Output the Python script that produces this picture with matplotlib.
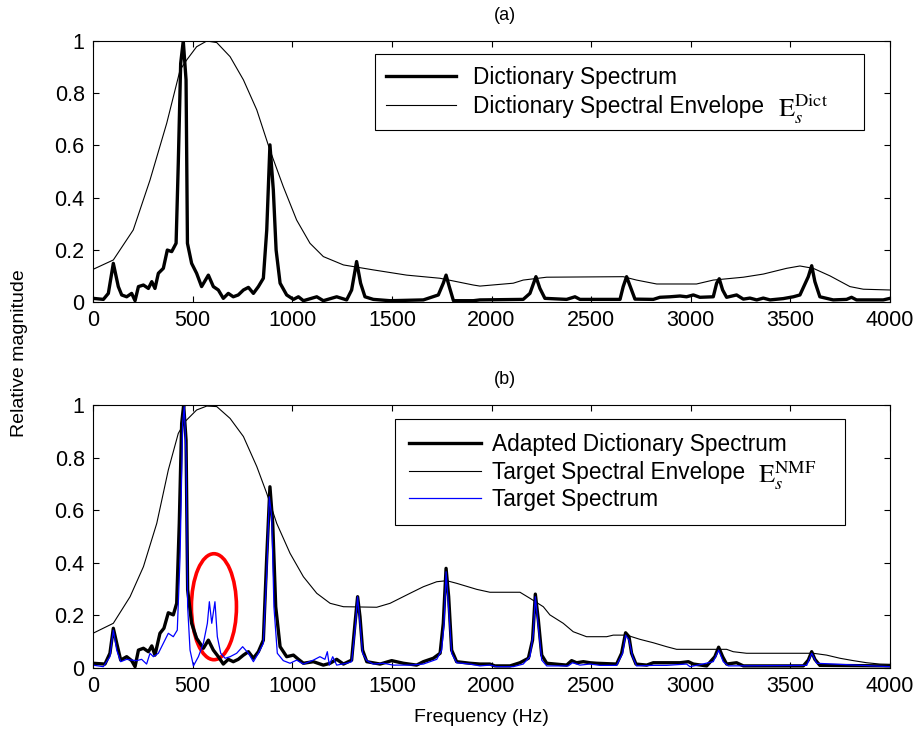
import matplotlib
matplotlib.use("Agg")
import matplotlib.pyplot as plt
from matplotlib.patches import Ellipse
from matplotlib.ticker import FixedLocator, FuncFormatter

plt.rcParams['font.family'] = ['Liberation Sans', 'DejaVu Sans']
plt.rcParams['mathtext.fontset'] = 'stix'

# ---------------- (a) Dictionary spectrum ----------------
dict_freq = [0, 52, 77, 102, 127, 144, 169, 194, 211, 228, 253, 278, 295, 311, 328, 353, 373, 395,
             417, 428, 440, 453, 467, 474, 495, 520, 545, 579, 604, 629, 654, 679, 704, 729, 755,
             780, 805, 830, 855, 872, 888, 905, 919, 939, 972, 1006, 1031, 1056, 1123, 1156, 1223,
             1273, 1298, 1323, 1343, 1365, 1407, 1491, 1658, 1733, 1758, 1772, 1788, 1809, 1909,
             1942, 2159, 2193, 2223, 2243, 2268, 2377, 2419, 2444, 2645, 2661, 2678, 2698, 2720,
             2812, 2845, 2896, 2946, 2979, 3013, 3046, 3113, 3130, 3143, 3160, 3180, 3230, 3264,
             3297, 3331, 3364, 3398, 3464, 3515, 3548, 3590, 3607, 3623, 3648, 3715, 3782, 3807,
             3832, 3966, 4000]
dict_mag = [0.014, 0.010, 0.033, 0.148, 0.059, 0.027, 0.020, 0.033, 0.005, 0.059, 0.065, 0.052,
            0.078, 0.052, 0.110, 0.129, 0.199, 0.193, 0.225, 0.531, 0.914, 1.000, 0.851, 0.225,
            0.148, 0.110, 0.059, 0.103, 0.059, 0.046, 0.014, 0.033, 0.020, 0.027, 0.046, 0.056,
            0.033, 0.059, 0.091, 0.276, 0.602, 0.429, 0.199, 0.072, 0.027, 0.010, 0.020, 0.005,
            0.020, 0.005, 0.020, 0.008, 0.046, 0.155, 0.072, 0.020, 0.010, 0.005, 0.008, 0.027,
            0.072, 0.103, 0.059, 0.005, 0.005,
            0.008, 0.010, 0.033, 0.097, 0.052, 0.014, 0.010, 0.020, 0.010, 0.010, 0.059, 0.097,
            0.056, 0.011, 0.010, 0.018, 0.020, 0.023, 0.020, 0.027, 0.018, 0.020, 0.072, 0.089,
            0.046, 0.018, 0.027, 0.011, 0.015, 0.008, 0.015, 0.008, 0.013, 0.020, 0.027, 0.097,
            0.139, 0.078, 0.020, 0.008, 0.010, 0.018, 0.008, 0.008, 0.014]

dict_env_freq = [0, 102, 202, 286, 370, 437, 470, 520, 571, 621, 688, 755, 822, 888, 955, 1022,
                 1089, 1156, 1257, 1407, 1574, 1741, 1909, 1942, 2109, 2159, 2277, 2661, 2728,
                 2829, 3029, 3113, 3264, 3364, 3481, 3548, 3615, 3699, 3799, 3866, 4000]
dict_env_mag = [0.125, 0.161, 0.276, 0.467, 0.685, 0.889, 0.927, 0.978, 1.000, 0.994, 0.940,
                0.851, 0.736, 0.582, 0.442, 0.314, 0.225, 0.174, 0.142, 0.123, 0.103, 0.091,
                0.065, 0.061, 0.072, 0.084, 0.095, 0.097, 0.084, 0.069, 0.069, 0.084, 0.095,
                0.107, 0.129, 0.138, 0.129, 0.100, 0.059, 0.049, 0.046]

# ---------------- (b) Adapted dictionary / target ----------------
adapt_freq = [0, 60, 85, 102, 119, 139, 169, 194, 211, 228, 253, 278, 295, 311, 336, 356, 378, 403,
              420, 433, 445, 455, 467, 475, 495, 520, 554, 579, 604, 629, 654, 679, 704, 729, 755,
              780, 805, 830, 855, 872, 888, 902, 917, 939, 972, 1006, 1031, 1056, 1106, 1156, 1190,
              1223, 1257, 1298, 1315, 1328, 1340, 1353, 1374, 1441, 1499, 1558, 1624, 1658, 1708,
              1742, 1758, 1772, 1785, 1800, 1825, 1892,
              1942, 1992, 2017, 2093, 2143, 2185, 2206, 2220, 2235, 2252, 2277, 2377, 2402, 2427,
              2461, 2494, 2528, 2628, 2653, 2673, 2690, 2703, 2725, 2779, 2812, 2879, 2946, 2988,
              3013, 3080, 3121, 3140, 3160, 3180, 3230, 3264, 3565, 3590, 3607, 3623, 3648, 4000]
adapt_mag = [0.018, 0.015, 0.056, 0.151, 0.094, 0.030, 0.043, 0.028, 0.005, 0.068, 0.075, 0.062,
             0.084, 0.049, 0.132, 0.151, 0.210, 0.202, 0.246, 0.550, 0.930, 1.000, 0.867, 0.297,
             0.170, 0.113, 0.075, 0.106, 0.068, 0.043, 0.015, 0.033, 0.024, 0.033, 0.049, 0.062,
             0.037, 0.062, 0.106, 0.423, 0.689, 0.550, 0.233, 0.081, 0.043, 0.049, 0.033, 0.018,
             0.024, 0.011, 0.018, 0.033, 0.015, 0.030, 0.170, 0.271, 0.195, 0.068, 0.024, 0.015,
             0.028, 0.018, 0.011, 0.024, 0.037, 0.056, 0.170, 0.379, 0.271, 0.068, 0.024, 0.018,
             0.015, 0.015, 0.008, 0.008, 0.020, 0.037, 0.106, 0.281, 0.183, 0.049, 0.018, 0.011,
             0.028, 0.020, 0.024, 0.020, 0.018, 0.015, 0.056, 0.134, 0.119, 0.056, 0.015, 0.011,
             0.020, 0.020, 0.020, 0.024, 0.015, 0.008, 0.043, 0.079, 0.043, 0.015, 0.020, 0.008,
             0.008, 0.030, 0.062, 0.033, 0.010, 0.008]

target_freq = [0, 52, 85, 102, 119, 139, 169, 194, 219, 244, 269, 286, 303, 328, 353, 378, 403, 423,
               437, 450, 458, 467, 475, 487, 504, 529, 554, 574, 584, 596, 612, 624, 641, 663, 688,
               721, 751, 780, 805, 830, 855, 872, 885, 897, 908, 925, 955, 989, 1022, 1056, 1106,
               1139, 1164, 1176, 1186, 1203, 1223, 1273, 1298, 1315, 1328, 1340, 1353, 1374, 1407,
               1457, 1507, 1591, 1658, 1725, 1750, 1762, 1772, 1783, 1800, 1825, 1892,
               1942, 1992, 2026, 2109, 2159, 2193, 2210, 2220, 2235, 2252, 2277, 2385, 2407, 2444,
               2494, 2544, 2628, 2658, 2673, 2690, 2708, 2728, 2812, 2879, 2979, 2996, 3029, 3113,
               3140, 3163, 3188, 3582, 3607, 3632, 4000]
target_mag = [0.011, 0.005, 0.043, 0.144, 0.068, 0.024, 0.033, 0.030, 0.028, 0.033, 0.015, 0.056,
              0.043, 0.056, 0.094, 0.132, 0.119, 0.144, 0.423, 0.930, 0.994, 0.804, 0.233, 0.068,
              0.008, 0.043, 0.094, 0.170, 0.252, 0.170, 0.252, 0.119, 0.056, 0.037, 0.043, 0.056,
              0.081, 0.056, 0.024, 0.056, 0.094, 0.360, 0.651, 0.575, 0.233, 0.056, 0.028, 0.018,
              0.030, 0.015, 0.030, 0.043, 0.033, 0.062, 0.011, 0.043, 0.011, 0.018, 0.024, 0.144,
              0.271, 0.170, 0.056, 0.028, 0.015, 0.018, 0.011, 0.011, 0.015, 0.033, 0.068, 0.170,
              0.366, 0.246, 0.056, 0.020, 0.015,
              0.008, 0.011, 0.005, 0.005, 0.015, 0.043, 0.132, 0.271, 0.157, 0.030, 0.008, 0.008,
              0.020, 0.011, 0.015, 0.010, 0.010, 0.056, 0.125, 0.106, 0.043, 0.008, 0.010, 0.010,
              0.015, 0.005, 0.010, 0.024, 0.068, 0.024, 0.008, 0.010, 0.056, 0.018, 0.005]

target_env_freq = [0, 102, 186, 253, 320, 378, 428, 462, 520, 571, 621, 688, 755, 822, 872, 922,
                   989, 1056, 1123, 1190, 1257, 1424, 1491, 1591, 1658, 1725, 1775, 1825, 1926,
                   1992, 2143, 2193, 2260, 2293, 2360, 2410, 2477, 2578, 2611, 2678, 2745, 2812,
                   2879, 2929, 3180, 3213, 3280, 3615, 3682, 3749, 3816, 3883, 3949, 4000]
target_env_mag = [0.132, 0.170, 0.271, 0.385, 0.550, 0.753, 0.892, 0.937, 0.981, 0.996, 0.994,
                  0.949, 0.880, 0.766, 0.664, 0.550, 0.436, 0.347, 0.284, 0.246, 0.233, 0.231,
                  0.246, 0.284, 0.309, 0.328, 0.332, 0.322, 0.299, 0.288, 0.288, 0.265, 0.233,
                  0.202, 0.170, 0.138, 0.119, 0.119, 0.125, 0.125, 0.109, 0.096, 0.081, 0.071,
                  0.071, 0.062, 0.056, 0.056, 0.049, 0.037, 0.028, 0.020, 0.015, 0.014]

x_ticks = [0, 500, 1000, 1500, 2000, 2500, 3000, 3500, 4000]
y_ticks = [0, 0.2, 0.4, 0.6, 0.8, 1]

labels_a = ['Dictionary Spectrum', 'Dictionary Spectral Envelope']
labels_b = ['Adapted Dictionary Spectrum', 'Target Spectral Envelope', 'Target Spectrum']
sym_a = r'$\mathrm{E}_{s}^{\mathrm{Dict}}$'
sym_b = r'$\mathrm{E}_{s}^{\mathrm{NMF}}$'

W, H = 920, 740
fig = plt.figure(figsize=(W / 100, H / 100), dpi=100)


def px_axes(l, t, r, b):
    return fig.add_axes([l / W, 1 - b / H, (r - l) / W, (b - t) / H])


ax1 = px_axes(93, 41, 890, 302)
ax2 = px_axes(93, 405, 890, 668)

TICKFS = 15.5
for ax in (ax1, ax2):
    ax.set_xlim(0, 4000)
    ax.set_ylim(0, 1)
    ax.xaxis.set_major_locator(FixedLocator(x_ticks))
    ax.yaxis.set_major_locator(FixedLocator(y_ticks))
    ax.yaxis.set_major_formatter(FuncFormatter(lambda v, p: ('%g' % round(v, 2))))
    ax.tick_params(direction='in', top=True, right=True, length=4, width=0.8,
                   labelsize=TICKFS, pad=6)
    for s in ax.spines.values():
        s.set_linewidth(0.8)

# (a)
ax1.plot(dict_freq, dict_mag, color='black', lw=2.4, label=labels_a[0])
ax1.plot(dict_env_freq, dict_env_mag, color='black', lw=0.8, label=labels_a[1])

# (b)
ax2.plot(adapt_freq, adapt_mag, color='black', lw=2.4, label=labels_b[0])
ax2.plot(target_env_freq, target_env_mag, color='black', lw=0.8, label=labels_b[1])
ax2.plot(target_freq, target_mag, color='#0000ff', lw=0.9, label=labels_b[2])
ax2.add_patch(Ellipse((607, 0.233), 226, 0.403, fill=False, edgecolor='#ff0000', lw=2.6))

LEGFS = 16.3
leg_kw = dict(loc='upper left', mode='expand', fontsize=LEGFS, frameon=True, fancybox=False,
              edgecolor='black', framealpha=1, borderaxespad=0)
l1 = ax1.legend(bbox_to_anchor=(375 / W, 1 - 55 / H, (864 - 375) / W, 0.001),
                bbox_transform=fig.transFigure, labelspacing=0.3, borderpad=0.5,
                handlelength=3.1, handletextpad=0.75, **leg_kw)
l2 = ax2.legend(bbox_to_anchor=(395 / W, 1 - 420 / H, (845 - 395) / W, 0.001),
                bbox_transform=fig.transFigure, labelspacing=0.2, borderpad=0.62,
                handlelength=3.2, handletextpad=0.45, **leg_kw)
for l in (l1, l2):
    l.get_frame().set_linewidth(0.8)

# envelope symbols next to the legend entries
fig.text(778 / W, 1 - 117 / H, sym_a, ha='left', va='baseline', fontsize=19)
fig.text(758 / W, 1 - 483 / H, sym_b, ha='left', va='baseline', fontsize=19)

fig.text(505 / W, 1 - 15 / H, '(a)', ha='center', va='center', fontsize=13)
fig.text(505 / W, 1 - 380 / H, '(b)', ha='center', va='center', fontsize=13)
fig.text(20 / W, 1 - 353 / H, 'Relative magnitude', rotation=90, ha='center', va='center',
         fontsize=14)
fig.text(481 / W, 1 - 718 / H, 'Frequency (Hz)', ha='center', va='center', fontsize=14)

fig.savefig('out.png', dpi=100)
